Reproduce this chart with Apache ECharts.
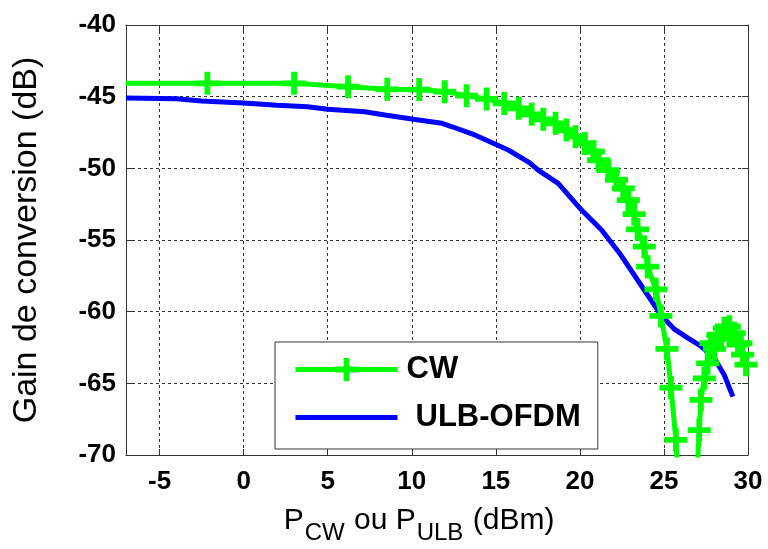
<!DOCTYPE html>
<html><head><meta charset="utf-8">
<script src="https://cdn.jsdelivr.net/npm/echarts@6/dist/echarts.min.js"></script>
<style>html,body{margin:0;padding:0;background:#fff}#c{width:768px;height:549px}</style>
</head><body><div id="c"></div>
<script>
const xTicks = [-5, 0, 5, 10, 15, 20, 25, 30];
const yTicks = [-70, -65, -60, -55, -50, -45, -40];
const cwX = [-7, -2.16, 3.0, 6.21, 8.54, 10.44, 11.96, 13.26, 14.45, 15.5, 16.37, 17.13, 17.82, 18.55, 19.2, 19.74, 20.3, 20.8, 21.1, 21.69, 22.18, 22.58, 22.88, 23.23, 23.43, 23.83, 24.03, 24.52, 24.82, 25.18, 25.42, 25.71, 25.95, 26.85, 27.1, 27.2, 27.4, 27.6, 27.8, 28.0, 28.2, 28.4, 28.59, 28.89, 29.0, 29.18, 29.4, 29.58, 29.68, 29.88, 30.1];
const cwY = [-44.07, -44.07, -44.07, -44.3, -44.49, -44.5, -44.65, -44.93, -45.16, -45.47, -45.81, -46.23, -46.58, -46.86, -47.33, -47.79, -48.26, -48.84, -49.42, -50.12, -50.81, -51.39, -52.21, -53.19, -54.25, -55.47, -56.86, -58.44, -60.3, -62.6, -65.3, -68.95, -74, -74, -68.26, -66.16, -64.65, -63.6, -62.2, -62.6, -61.63, -61.9, -61.16, -61.05, -61.6, -61.5, -62.3, -62.2, -63.0, -63.7, -63.8];
const cwNoMarker = [0];
const ofdmX = [-7, -4, -2.5, 0, 2, 3.8, 5, 7.2, 8.4, 10.4, 11.8, 12.4, 13.75, 15.74, 17.0, 17.52, 18.71, 20.1, 21.29, 22.44, 23.63, 24.82, 25.6, 26.5, 27.2, 28.0, 28.59, 29.1];
const ofdmY = [-45.1, -45.15, -45.3, -45.45, -45.6, -45.7, -45.88, -46.05, -46.28, -46.63, -46.86, -47.1, -47.67, -48.72, -49.6, -50.12, -51.05, -52.91, -54.3, -56.05, -58.14, -60.23, -61.2, -61.9, -62.4, -63.26, -64.42, -65.93];
const cwName = 'CW';
const ofdmName = 'ULB-OFDM';
const yAxisTitle = 'Gain de conversion (dB)';

const FONT = 'Liberation Sans, Arial, sans-serif';
const plusPath = 'path://M-3,-12H3V-3H12V3H3V12H-3V3H-12V-3H-3Z';

const cwData = cwX.map((x, i) => cwNoMarker.includes(i) ? { value: [x, cwY[i]], symbol: 'none' } : [x, cwY[i]]);
const ofdmData = ofdmX.map((x, i) => [x, ofdmY[i]]);

const axisLineStyle = { color: '#333', width: 1 };
const chart = echarts.init(document.getElementById('c'), null, { renderer: 'canvas' });
chart.setOption({
  animation: false,
  backgroundColor: '#fff',
  grid: { left: 126, top: 25, width: 622, height: 430, containLabel: false, outerBoundsMode: 'none' },
  xAxis: [{
    type: 'value', min: -7, max: 30, position: 'bottom',
    axisLine: { show: true, onZero: false, lineStyle: axisLineStyle },
    axisTick: { show: true, inside: true, length: 6, customValues: xTicks, lineStyle: { color: '#333' } },
    axisLabel: { customValues: xTicks, margin: 14, fontSize: 26, fontWeight: 'bold', color: '#000', fontFamily: FONT },
    splitLine: { show: true, lineStyle: { color: '#333', type: [3, 3], width: 1 } },
    name: '{a|P}{s|CW}{a| ou P}{s|ULB}{a| (dBm)}',
    nameLocation: 'middle', nameGap: 47,
    nameTextStyle: {
      fontFamily: FONT, color: '#000', padding: [0, 36, 0, 0],
      rich: {
        a: { fontSize: 30, fontFamily: FONT, color: '#000', lineHeight: 34, verticalAlign: 'bottom' },
        s: { fontSize: 24, fontFamily: FONT, color: '#000', lineHeight: 34, verticalAlign: 'bottom', padding: [0, 1, -9, 1] }
      }
    }
  }, {
    type: 'value', min: -7, max: 30, position: 'top',
    axisLine: { show: true, onZero: false, lineStyle: axisLineStyle },
    axisTick: { show: true, inside: true, length: 6, customValues: xTicks, lineStyle: { color: '#333' } },
    axisLabel: { show: false },
    splitLine: { show: false }
  }],
  yAxis: [{
    type: 'value', min: -70, max: -40, interval: 5, position: 'left',
    axisLine: { show: true, onZero: false, lineStyle: axisLineStyle },
    axisTick: { show: true, inside: true, length: 6, lineStyle: { color: '#333' } },
    axisLabel: { margin: 10, fontSize: 26, fontWeight: 'bold', color: '#000', fontFamily: FONT },
    splitLine: { show: true, lineStyle: { color: '#333', type: [3, 3], width: 1 } },
    name: yAxisTitle, nameLocation: 'middle', nameGap: 82, nameRotate: 90,
    nameTextStyle: { fontSize: 34, fontFamily: FONT, color: '#000' }
  }, {
    type: 'value', min: -70, max: -40, interval: 5, position: 'right',
    axisLine: { show: true, onZero: false, lineStyle: axisLineStyle },
    axisTick: { show: true, inside: true, length: 6, lineStyle: { color: '#333' } },
    axisLabel: { show: false },
    splitLine: { show: false }
  }],
  legend: {
    orient: 'vertical', left: 275, top: 342,
    padding: [12, 17, 16, 18],
    itemWidth: 102, itemHeight: 29, itemGap: 17,
    backgroundColor: '#fff', borderColor: '#333', borderWidth: 1,
    textStyle: { fontSize: 31, fontWeight: 'bold', color: '#000', fontFamily: FONT, padding: [0, 0, 0, 4] },
    data: [
      { name: cwName, lineStyle: { color: '#00ff00', width: 5 } },
      { name: ofdmName, lineStyle: { color: '#0000ff', width: 5 }, itemStyle: { color: 'rgba(0,0,0,0)', borderWidth: 0 }, textStyle: { padding: [0, 0, 0, 13] } }
    ]
  },
  series: [{
    name: ofdmName, type: 'line', data: ofdmData, xAxisIndex: 0, yAxisIndex: 0,
    showSymbol: false, symbol: 'none',
    lineStyle: { color: '#0000ff', width: 5 }, itemStyle: { color: '#0000ff' },
    clip: true, z: 3
  }, {
    name: cwName, type: 'line', data: cwData, xAxisIndex: 0, yAxisIndex: 0,
    symbol: plusPath, symbolSize: 23, showSymbol: true, showAllSymbol: true,
    lineStyle: { color: '#00ff00', width: 5 }, itemStyle: { color: '#00ff00' },
    clip: true, z: 4
  }]
});
</script>
</body></html>
